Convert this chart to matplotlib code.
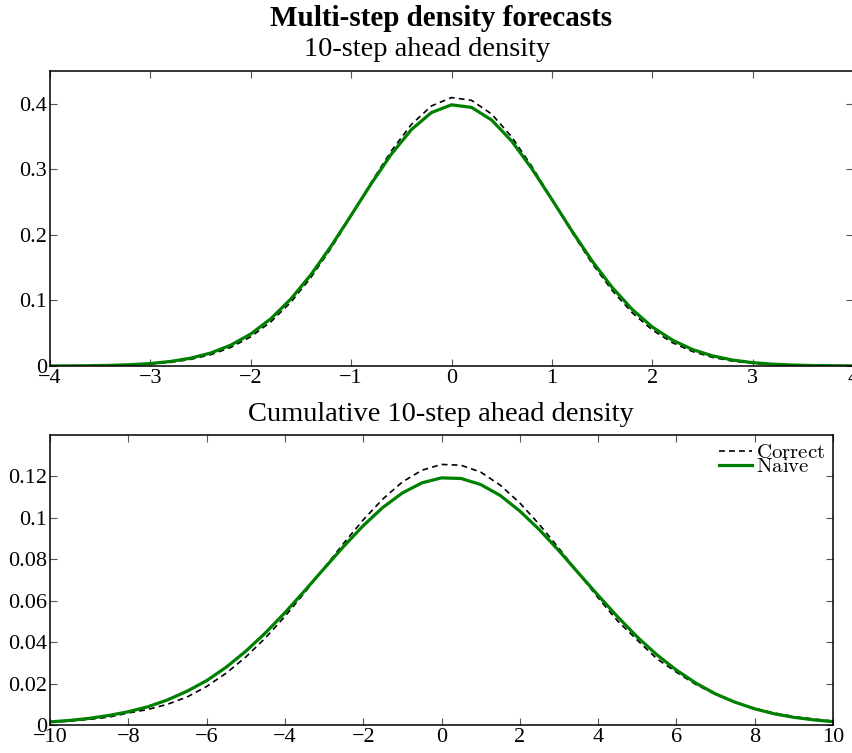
import numpy as np
import matplotlib
matplotlib.use("Agg")
import matplotlib.pyplot as plt
from matplotlib.ticker import FuncFormatter, MultipleLocator

plt.rcParams['font.family'] = ['Liberation Serif', 'DejaVu Serif']
plt.rcParams['mathtext.fontset'] = 'cm'

# 10-step ahead density
x_top = np.arange(-4.0, 4.01, 0.2)
correct_top = [0.0001, 0.0002, 0.0004, 0.0008, 0.0016, 0.0030, 0.0056, 0.0101, 0.0172, 0.0283,
               0.0446, 0.0673, 0.0974, 0.1351, 0.1796, 0.2291, 0.2800, 0.3280, 0.3684, 0.3967,
               0.4095, 0.4052, 0.3843, 0.3494, 0.3046, 0.2546, 0.2039, 0.1566, 0.1153, 0.0813,
               0.0551, 0.0357, 0.0222, 0.0132, 0.0075, 0.0041, 0.0022, 0.0011, 0.0005, 0.0002,
               0.0001]
naive_top = [0.0001, 0.0002, 0.0005, 0.0010, 0.0020, 0.0038, 0.0069, 0.0119, 0.0198, 0.0317,
             0.0488, 0.0721, 0.1023, 0.1394, 0.1827, 0.2299, 0.2780, 0.3230, 0.3606, 0.3866,
             0.3984, 0.3945, 0.3752, 0.3430, 0.3011, 0.2541, 0.2060, 0.1604, 0.1200, 0.0863,
             0.0596, 0.0396, 0.0252, 0.0155, 0.0091, 0.0051, 0.0028, 0.0015, 0.0007, 0.0004,
             0.0002]

# cumulative 10-step ahead density (bottom panel)
x_bot = np.arange(-10.0, 10.01, 0.5)
correct_bot = [0.0013, 0.0019, 0.0027, 0.0038, 0.0058, 0.0075, 0.0100, 0.0135, 0.0186, 0.0250,
               0.0328, 0.0420, 0.0524, 0.0638, 0.0757, 0.0877, 0.0990, 0.1091, 0.1173, 0.1230,
               0.1258, 0.1254, 0.1221, 0.1158, 0.1072, 0.0968, 0.0853, 0.0733, 0.0614, 0.0502,
               0.0410, 0.0320, 0.0255, 0.0195, 0.0148, 0.0110, 0.0080, 0.0058, 0.0041, 0.0029,
               0.0019]
naive_bot = [0.0015, 0.0022, 0.0032, 0.0046, 0.0064, 0.0088, 0.0121, 0.0163, 0.0214, 0.0279,
             0.0356, 0.0444, 0.0542, 0.0647, 0.0755, 0.0862, 0.0962, 0.1050, 0.1120, 0.1169,
             0.1193, 0.1190, 0.1161, 0.1108, 0.1033, 0.0943, 0.0841, 0.0733, 0.0626, 0.0522,
             0.0425, 0.0339, 0.0265, 0.0202, 0.0150, 0.0110, 0.0078, 0.0054, 0.0037, 0.0025,
             0.0016]

green = (0.0, 0.5, 0.0)


def fmt(v, pos):
    return ('%g' % round(v, 6)).replace('-', '\u2212')


def style(ax):
    ax.tick_params(direction='in', length=5, width=0.8, color='#555555',
                   top=True, right=True, labelsize=16, pad=2)
    for s in ax.spines.values():
        s.set_linewidth(1.1)
    ax.xaxis.set_major_formatter(FuncFormatter(fmt))
    ax.yaxis.set_major_formatter(FuncFormatter(fmt))


fig = plt.figure(figsize=(8.52, 7.53), dpi=100)
W, H = 852.0, 753.0
ax1 = fig.add_axes([50 / W, 1 - 366 / H, 803 / W, 295 / H])
ax2 = fig.add_axes([50 / W, 1 - 725 / H, 783 / W, 290 / H])

ax1.plot(x_top, correct_top, color='black', lw=1.2, dashes=(3.5, 2.5))
ax1.plot(x_top, naive_top, color=green, lw=2.3)
ax1.set_xlim(-4, 4)
ax1.set_ylim(0, 0.45)
ax1.xaxis.set_major_locator(MultipleLocator(1))
ax1.set_yticks([0, 0.1, 0.2, 0.3, 0.4])
style(ax1)

ax2.plot(x_bot, correct_bot, color='black', lw=1.2, dashes=(3.5, 2.5), label=r'$\mathrm{Correct}$')
ax2.plot(x_bot, naive_bot, color=green, lw=2.3, label=r'$\mathrm{Naive}$')
ax2.set_xlim(-10, 10)
ax2.set_ylim(0, 0.14)
ax2.xaxis.set_major_locator(MultipleLocator(2))
ax2.set_yticks([0, 0.02, 0.04, 0.06, 0.08, 0.1, 0.12])
style(ax2)
ax2.legend(loc='upper right', frameon=False, fontsize=15, handlelength=1.6,
           handletextpad=0.15, labelspacing=-0.25, borderaxespad=0.2, borderpad=0.2)

fig.text(441 / W, 1 - 18 / H, 'Multi-step density forecasts', ha='center', va='center',
         fontsize=21, fontweight='bold')
fig.text(427 / W, 1 - 50 / H, '10-step ahead density', ha='center', va='center', fontsize=20.5)
fig.text(441 / W, 1 - 415 / H, 'Cumulative 10-step ahead density', ha='center', va='center',
         fontsize=20.5)

fig.savefig('out.png', dpi=100)
